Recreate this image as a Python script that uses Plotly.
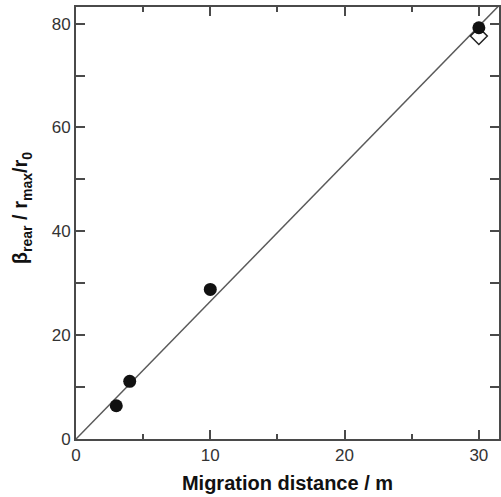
import plotly.graph_objects as go

# Data
distance_filled = [3, 4, 10, 30]
ratio_filled = [6.4, 11.1, 28.8, 79.2]
distance_open = [30]
ratio_open = [77.6]
fit_slope = 2.65
fit_x = [0, 32]

x_ticks = [0, 10, 20, 30]
y_ticks = [0, 20, 40, 60, 80]

FONT = "Arial, Liberation Sans, Helvetica, sans-serif"
AX = "#4a4a4a"

fig = go.Figure()

fig.add_trace(go.Scatter(
    x=fit_x, y=[fit_slope * v for v in fit_x], mode="lines",
    line=dict(color="#5a5a5a", width=1.5), showlegend=False, hoverinfo="skip"))

fig.add_trace(go.Scatter(
    x=distance_open, y=ratio_open, mode="markers",
    marker=dict(symbol="diamond-open", size=13, color="#222222",
                line=dict(width=1.5, color="#222222")),
    showlegend=False, cliponaxis=False))

fig.add_trace(go.Scatter(
    x=distance_filled, y=ratio_filled, mode="markers",
    marker=dict(symbol="circle", size=13, color="#111111"),
    showlegend=False, cliponaxis=False))

fig.update_xaxes(
    range=[0, 31.5], tickvals=x_ticks, ticks="inside", ticklen=9, tickwidth=1.5,
    tickcolor=AX, showline=True, linecolor=AX, linewidth=2, mirror="ticks",
    showgrid=False, zeroline=False,
    minor=dict(dtick=5, tick0=0, ticks="inside", ticklen=5, tickwidth=1.5, tickcolor=AX, showgrid=False),
    tickfont=dict(family=FONT, size=17, color="#333333"),
    title=dict(text="<b>Migration distance / m</b>", standoff=12,
               font=dict(family=FONT, size=20, color="#111111")),
)
fig.update_yaxes(
    range=[0, 83.2], tickvals=y_ticks, ticks="inside", ticklen=9, tickwidth=1.5,
    tickcolor=AX, showline=True, linecolor=AX, linewidth=2, mirror="ticks",
    showgrid=False, zeroline=False,
    minor=dict(dtick=10, tick0=0, ticks="inside", ticklen=9, tickwidth=1.5, tickcolor=AX, showgrid=False),
    tickfont=dict(family=FONT, size=17, color="#333333"),
)

fig.add_annotation(
    text="<b>β<sub>rear</sub> / r<sub>max</sub>/r<sub>0</sub></b>",
    xref="paper", yref="paper", x=-0.127, y=0.535, textangle=-90,
    showarrow=False, xanchor="center", yanchor="middle",
    font=dict(family=FONT, size=20, color="#111111"))

fig.update_layout(
    width=501, height=497,
    margin=dict(l=76, r=0, t=7, b=58),
    paper_bgcolor="white", plot_bgcolor="white",
)

fig.write_html("out.html")
